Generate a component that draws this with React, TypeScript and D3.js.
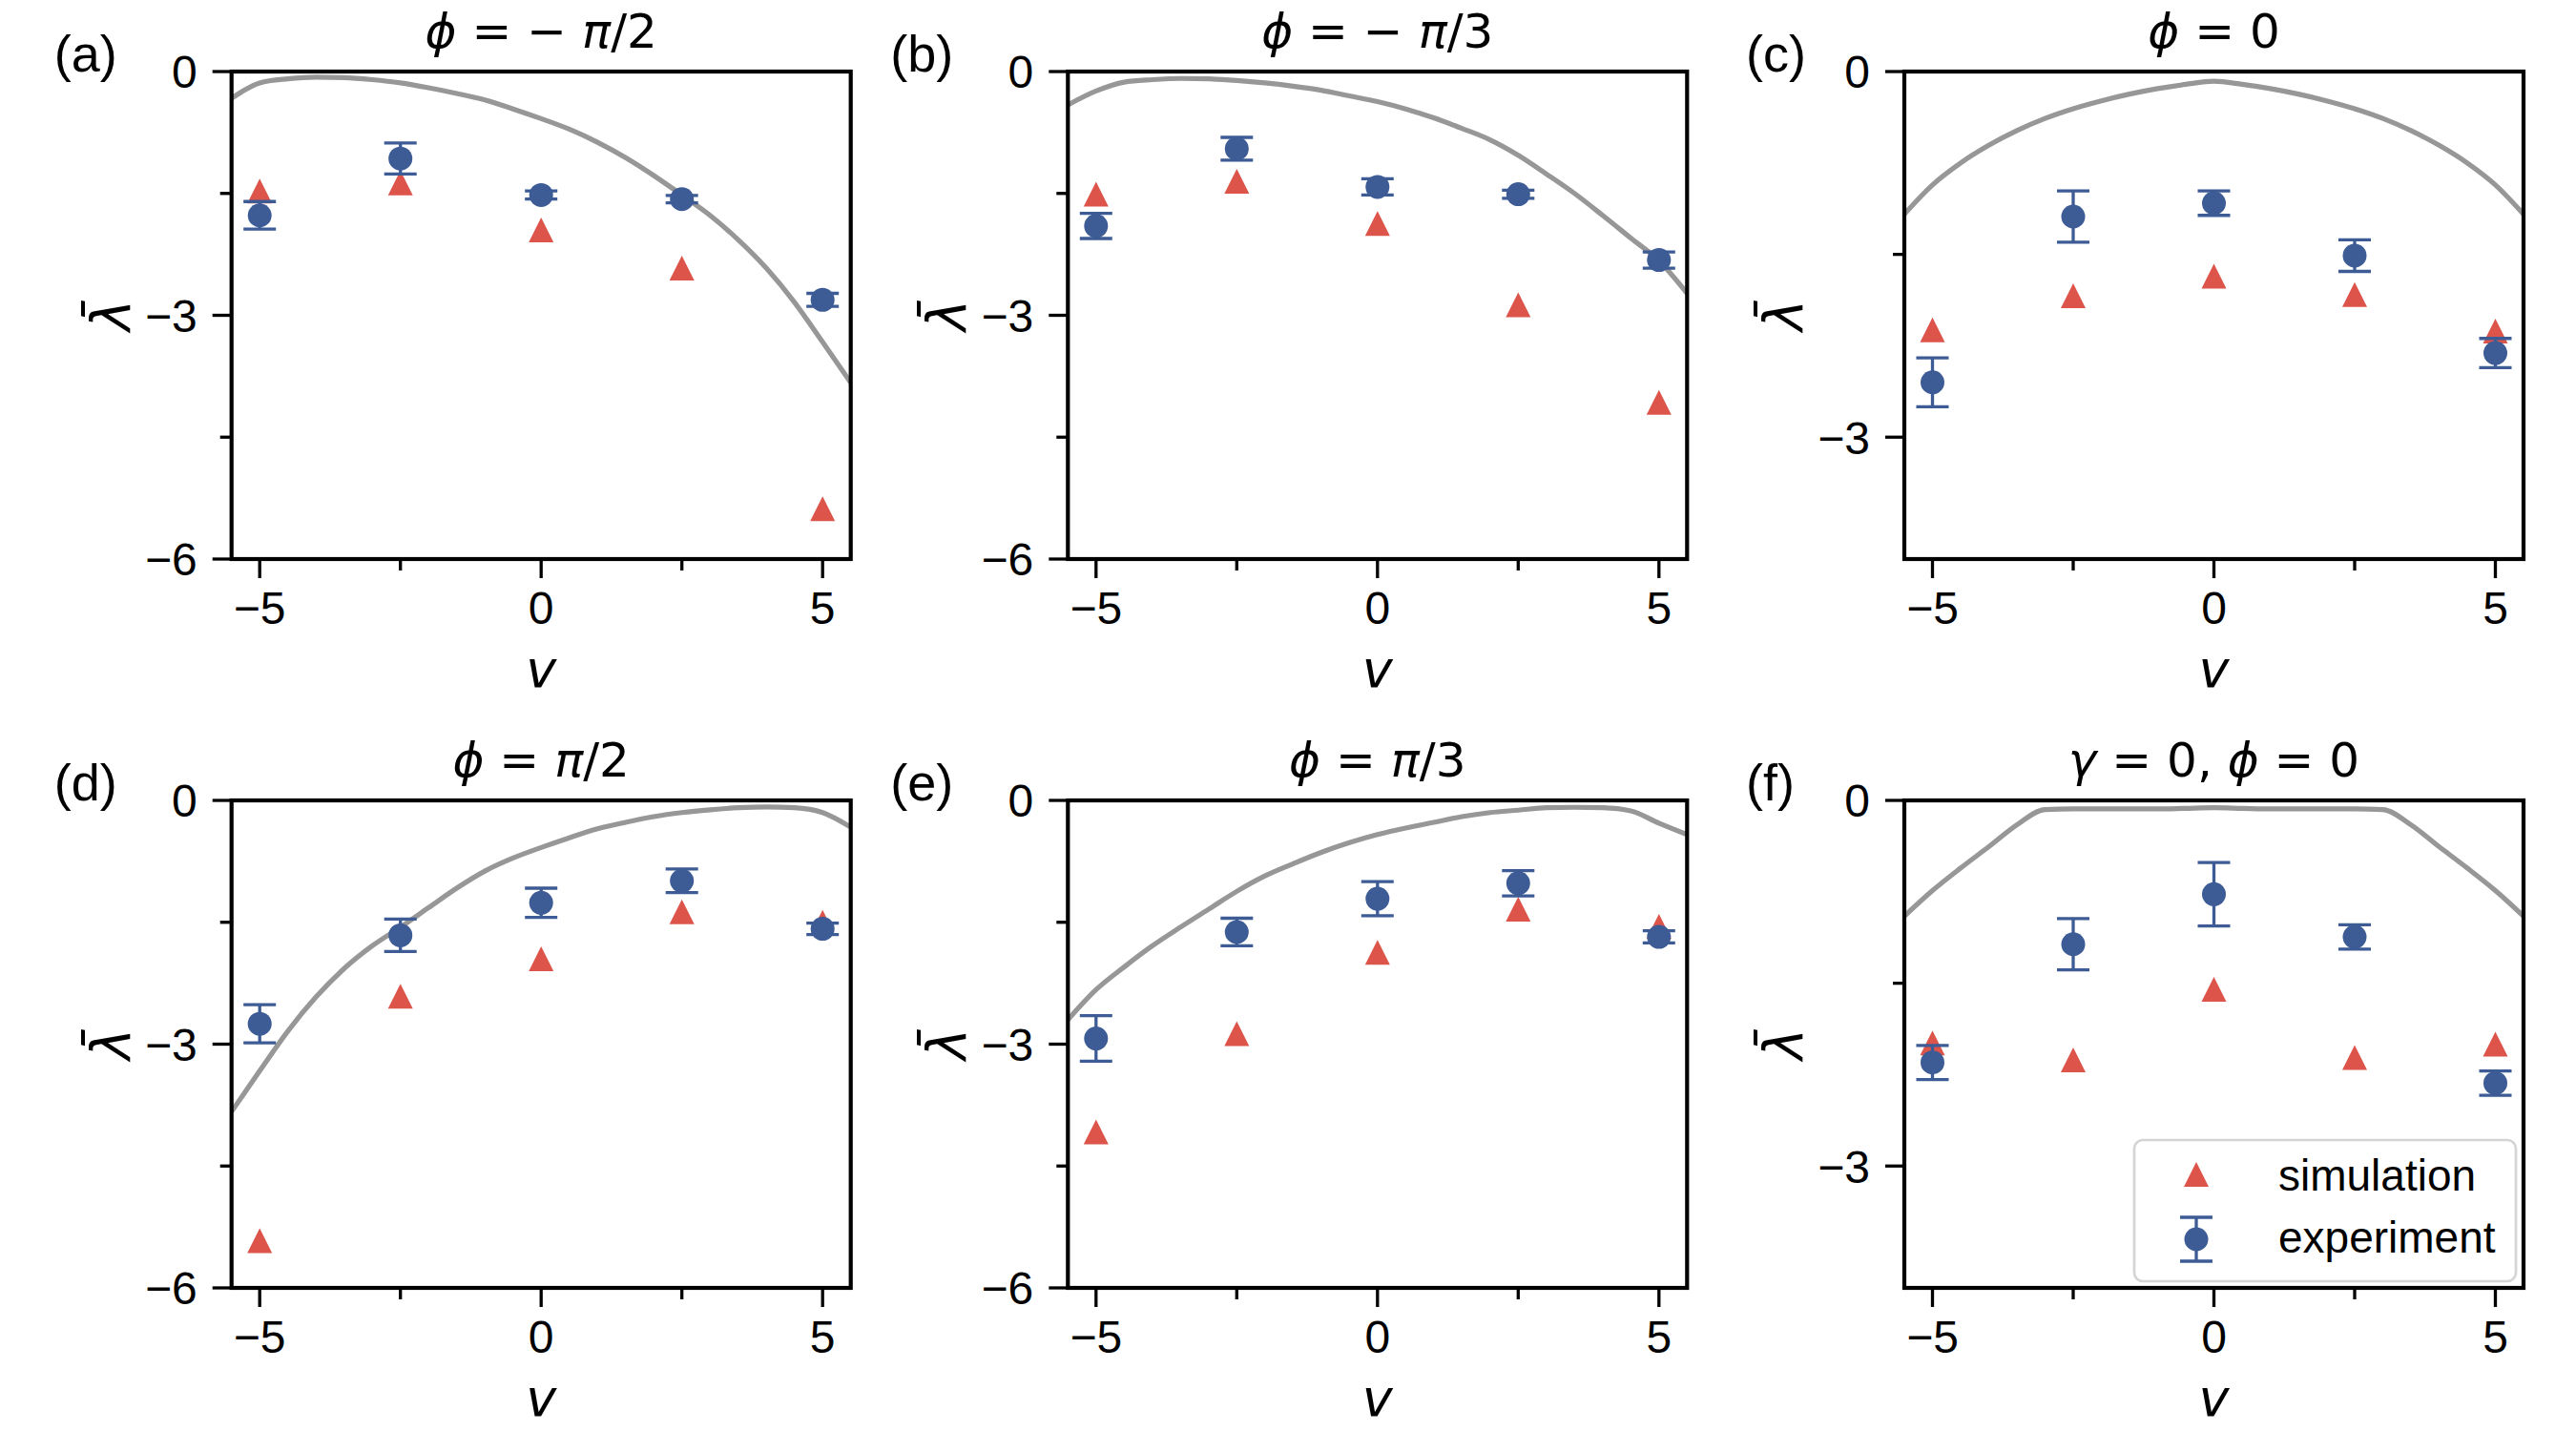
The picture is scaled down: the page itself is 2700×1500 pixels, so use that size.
import React from 'react';
import * as d3 from 'd3';

// ---------------- data ----------------
const vPoints = [-5, -2.5, 0, 2.5, 5];
const xMajorTicks = [-5, 0, 5];
const xMinorTicks = [-2.5, 2.5];
const curveV = [-5.5, -5, -4.5, -4, -3.5, -3, -2.5, -2, -1.5, -1, -0.5, 0, 0.5, 1, 1.5, 2, 2.5, 3, 3.5, 4, 4.5, 5, 5.5];

const titles = ['ϕ = − π/2', 'ϕ = − π/3', 'ϕ = 0', 'ϕ = π/2', 'ϕ = π/3', 'γ = 0, ϕ = 0'];
const panelLabels = ['(a)', '(b)', '(c)', '(d)', '(e)', '(f)'];
const yMins = [-6, -6, -4, -6, -6, -4];

const simA = [-1.47, -1.37, -1.95, -2.42, -5.38];
const simB = [-1.51, -1.35, -1.87, -2.87, -4.07];
const simC = [-2.12, -1.84, -1.68, -1.83, -2.13];
const simD = [-5.42, -2.41, -1.95, -1.37, -1.5];
const simE = [-4.08, -2.87, -1.87, -1.34, -1.55];
const simF = [-1.99, -2.13, -1.55, -2.11, -2.0];

const expA = [-1.77, -1.07, -1.52, -1.57, -2.81];
const expB = [-1.9, -0.95, -1.42, -1.51, -2.32];
const expC = [-2.55, -1.19, -1.08, -1.51, -2.31];
const expD = [-2.75, -1.66, -1.26, -0.99, -1.58];
const expE = [-2.93, -1.62, -1.21, -1.02, -1.68];
const expF = [-2.15, -1.18, -0.77, -1.12, -2.32];

const errA = [0.17, 0.19, 0.05, 0.045, 0.08];
const errB = [0.155, 0.14, 0.1, 0.05, 0.1];
const errC = [0.2, 0.21, 0.1, 0.13, 0.12];
const errD = [0.235, 0.2, 0.18, 0.145, 0.07];
const errE = [0.28, 0.17, 0.21, 0.155, 0.075];
const errF = [0.14, 0.21, 0.26, 0.1, 0.1];

const curveA = [-0.33, -0.14, -0.09, -0.07, -0.075, -0.1, -0.14, -0.2, -0.27, -0.35, -0.46, -0.58, -0.71, -0.87, -1.06, -1.28, -1.52, -1.77, -2.07, -2.42, -2.84, -3.33, -3.83];
const curveB = [-0.41, -0.24, -0.13, -0.1, -0.085, -0.09, -0.11, -0.14, -0.18, -0.23, -0.3, -0.37, -0.46, -0.57, -0.7, -0.84, -1.03, -1.26, -1.5, -1.77, -2.05, -2.33, -2.73];
const curveC = [-1.17, -0.93, -0.75, -0.605, -0.485, -0.385, -0.305, -0.24, -0.185, -0.14, -0.105, -0.08, -0.105, -0.14, -0.185, -0.24, -0.305, -0.385, -0.485, -0.605, -0.75, -0.93, -1.17];
const curveD = [-3.83, -3.33, -2.84, -2.42, -2.07, -1.79, -1.56, -1.32, -1.08, -0.87, -0.71, -0.58, -0.46, -0.35, -0.27, -0.2, -0.15, -0.115, -0.09, -0.08, -0.09, -0.15, -0.33];
const curveE = [-2.7, -2.33, -2.05, -1.79, -1.56, -1.34, -1.12, -0.93, -0.78, -0.64, -0.52, -0.42, -0.34, -0.27, -0.2, -0.15, -0.12, -0.09, -0.085, -0.09, -0.13, -0.28, -0.42];
const curveF = [-0.95, -0.74, -0.555, -0.38, -0.2, -0.075, -0.07, -0.07, -0.07, -0.07, -0.065, -0.06, -0.065, -0.07, -0.07, -0.07, -0.07, -0.075, -0.2, -0.38, -0.555, -0.74, -0.95];

const simSeries = [simA, simB, simC, simD, simE, simF];
const expSeries = [expA, expB, expC, expD, expE, expF];
const errSeries = [errA, errB, errC, errD, errE, errF];
const curveSeries = [curveA, curveB, curveC, curveD, curveE, curveF];

const legendLabels = ['simulation', 'experiment'];

// ---------------- style / layout ----------------
const W = 2700;
const H = 1500;
const colLeft = [242.7, 1119.3, 1996];
const rowTop = [75, 839];
const axW = 649;
const axH = 511;
const labelOffset = [186, 186, 166];

const RED = '#dc544a';
const BLUE = '#3d5b95';
const GRAY = '#979797';
const SANS = '"Liberation Sans", Arial, Helvetica, sans-serif';
const MATH = '"DejaVu Sans", sans-serif';

const GREEK = new Set(['ϕ', 'π', 'γ', 'λ', 'v']);

function MathText({ text }: { text: string }) {
  const parts: { t: string; it: boolean }[] = [];
  for (const ch of text) {
    const it = GREEK.has(ch);
    const last = parts[parts.length - 1];
    if (last && last.it === it) last.t += ch;
    else parts.push({ t: ch, it });
  }
  return (
    <>
      {parts.map((p, i) => (
        <tspan key={i} fontStyle={p.it ? 'italic' : 'normal'}>
          {p.t}
        </tspan>
      ))}
    </>
  );
}

const triPath = (s: number) => `M0,${-s} L${s},${s} L${-s},${s} Z`;

function ErrMarker({ cx, cy, y1, y2 }: { cx: number; cy: number; y1: number; y2: number }) {
  return (
    <g>
      <line x1={cx} x2={cx} y1={y1} y2={y2} stroke={BLUE} strokeWidth={3.3} />
      <line x1={cx - 17} x2={cx + 17} y1={y1} y2={y1} stroke={BLUE} strokeWidth={3.3} />
      <line x1={cx - 17} x2={cx + 17} y1={y2} y2={y2} stroke={BLUE} strokeWidth={3.3} />
      <circle cx={cx} cy={cy} r={12.5} fill={BLUE} />
    </g>
  );
}

function Panel({ i }: { i: number }) {
  const col = i % 3;
  const row = Math.floor(i / 3);
  const left = colLeft[col];
  const top = rowTop[row];
  const yMin = yMins[i];
  const x = d3.scaleLinear().domain([-5.5, 5.5]).range([0, axW]);
  const y = d3.scaleLinear().domain([yMin, 0]).range([axH, 0]);
  const yMajor = d3.range(0, yMin - 0.001, -3);
  const yMinor = d3.range(-1.5, yMin - 0.001, -3);
  const line = d3
    .line<number>()
    .x((_, k) => x(curveV[k]))
    .y((d) => y(d))
    .curve(d3.curveMonotoneX);
  const clipId = `clip${i}`;
  const sim = simSeries[i];
  const exp = expSeries[i];
  const err = errSeries[i];
  const fmt = (t: number) => (t < 0 ? '−' + Math.abs(t) : String(t));

  return (
    <g>
      <text x={left - labelOffset[col]} y={top} fontFamily={SANS} fontSize={54} fill="#000">
        {panelLabels[i]}
      </text>
      <text x={left + axW / 2} y={top - 25} fontFamily={MATH} fontSize={50} textAnchor="middle" fill="#000">
        <MathText text={titles[i]} />
      </text>
      <g transform={`translate(${left},${top})`}>
        <defs>
          <clipPath id={clipId}>
            <rect x={0} y={0} width={axW} height={axH} />
          </clipPath>
        </defs>
        <path d={line(curveSeries[i]) || ''} fill="none" stroke={GRAY} strokeWidth={5.2} clipPath={`url(#${clipId})`} />
        {sim.map((s, k) => (
          <path key={'s' + k} d={triPath(13)} transform={`translate(${x(vPoints[k])},${y(s)})`} fill={RED} />
        ))}
        {exp.map((e, k) => (
          <ErrMarker key={'e' + k} cx={x(vPoints[k])} cy={y(e)} y1={y(e + err[k])} y2={y(e - err[k])} />
        ))}
        {/* spines */}
        <rect x={0} y={0} width={axW} height={axH} fill="none" stroke="#000" strokeWidth={4.2} />
        {/* x ticks */}
        {xMajorTicks.map((t) => (
          <g key={'xt' + t}>
            <line x1={x(t)} x2={x(t)} y1={axH} y2={axH + 20} stroke="#000" strokeWidth={3.3} />
            <text x={x(t)} y={axH + 68} fontFamily={SANS} fontSize={48} textAnchor="middle" fill="#000">
              {fmt(t)}
            </text>
          </g>
        ))}
        {xMinorTicks.map((t) => (
          <line key={'xm' + t} x1={x(t)} x2={x(t)} y1={axH} y2={axH + 12} stroke="#000" strokeWidth={3.3} />
        ))}
        {yMajor.map((t) => (
          <g key={'yt' + t}>
            <line x1={-20} x2={0} y1={y(t)} y2={y(t)} stroke="#000" strokeWidth={3.3} />
            <text x={-36} y={y(t)} dy="0.36em" fontFamily={SANS} fontSize={48} textAnchor="end" fill="#000">
              {fmt(t)}
            </text>
          </g>
        ))}
        {yMinor.map((t) => (
          <line key={'ym' + t} x1={-12} x2={0} y1={y(t)} y2={y(t)} stroke="#000" strokeWidth={3.3} />
        ))}
        {/* axis labels */}
        <text x={axW / 2} y={axH + 134} fontFamily={MATH} fontSize={54} fontStyle="italic" textAnchor="middle" fill="#000">
          v
        </text>
        <text
          transform={`translate(${-107},${axH / 2}) rotate(-90)`}
          fontFamily={MATH}
          fontSize={56}
          fontStyle="italic"
          textAnchor="middle"
          fill="#000"
        >
          {'λ\u0304'}
        </text>
        {i === 5 && <Legend />}
      </g>
    </g>
  );
}

function Legend() {
  // positioned inside axes (f), lower right
  const bx = 241;
  const by = 356;
  const bw = 400;
  const bh = 148;
  const mx = 306;
  const tx = 392;
  return (
    <g>
      <rect x={bx} y={by} width={bw} height={bh} rx={9} ry={9} fill="#fff" fillOpacity={0.8} stroke="#d4d4d4" strokeWidth={2.7} />
      <path d={triPath(13)} transform={`translate(${mx},${392})`} fill={RED} />
      <text x={tx} y={409} fontFamily={SANS} fontSize={46} fill="#000">
        {legendLabels[0]}
      </text>
      <ErrMarker cx={mx} cy={460} y1={437} y2={483} />
      <text x={tx} y={474} fontFamily={SANS} fontSize={46} fill="#000">
        {legendLabels[1]}
      </text>
    </g>
  );
}

export default function App() {
  return (
    <svg
      width={W}
      height={H}
      viewBox={`0 0 ${W} ${H}`}
      style={{ position: 'absolute', left: 0, top: 0, background: '#fff' }}
    >
      <rect x={0} y={0} width={W} height={H} fill="#fff" />
      {[0, 1, 2, 3, 4, 5].map((i) => (
        <Panel key={i} i={i} />
      ))}
    </svg>
  );
}
